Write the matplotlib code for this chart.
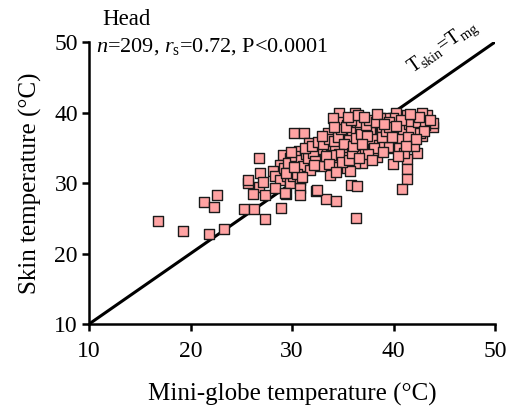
import matplotlib.pyplot as plt

plt.rcParams['font.family'] = ['Liberation Serif', 'DejaVu Serif']
plt.rcParams['mathtext.fontset'] = 'custom'
plt.rcParams['mathtext.rm'] = 'Liberation Serif'
plt.rcParams['mathtext.it'] = 'Liberation Serif:italic'

# mini-globe temperature (x) and skin temperature (y), deg C
globe_sparse = [16.8, 19.3, 21.3, 22.6, 22.3, 21.8, 23.3, 25.3, 26.3, 27.3,
                25.7, 25.7, 26.7, 26.2, 27.3, 26.8, 26.7, 28.9, 29.4, 32.4,
                33.3, 34.3, 36.3, 35.8, 36.4, 32.5]
skin_sparse = [24.6, 23.2, 27.3, 28.3, 26.6, 22.8, 23.5, 26.3, 26.3, 24.9,
               30.0, 30.4, 29.4, 28.4, 28.3, 31.4, 33.5, 26.5, 28.4, 28.9,
               27.7, 27.4, 25.0, 29.7, 29.6, 29.0]

globe_right = [42.3, 41.3, 41.3, 41.3, 40.8, 39.9, 38.4, 43.9, 43.9, 43.3,
               42.8, 42.8, 41.8, 40.3, 39.9, 38.8, 37.8, 37.2, 36.9, 36.9,
               40.2, 41.3, 39.9, 40.8, 41.9, 42.1, 41.1, 40.4, 41.3, 41.9,
               42.8, 41.1, 39.9, 40.0]
skin_right = [34.3, 33.4, 32.0, 30.6, 29.2, 32.7, 33.7, 37.9, 38.5, 39.6,
              39.9, 38.1, 35.8, 35.7, 37.2, 37.9, 37.1, 35.8, 32.8, 34.3,
              39.9, 39.6, 39.2, 38.5, 39.2, 37.8, 38.2, 37.1, 37.1, 36.5,
              36.7, 35.8, 35.0, 36.0]

globe_mid = [30.2, 31.2, 29.1, 28.8, 29.8, 30.7, 31.7, 31.9, 30.4, 30.8,
             28.1, 28.3, 28.8, 29.5, 29.8, 30.8, 30.8, 27.1, 28.3, 29.3,
             30.8, 30.0, 30.1, 34.6, 36.2, 34.6, 34.0, 36.2, 36.7, 35.4,
             34.2, 33.5, 35.2, 35.9, 36.7, 37.7, 38.9, 39.2, 38.7, 39.6,
             38.2, 37.0, 36.2, 34.9, 39.2, 39.5, 32.8, 33.4, 34.2, 35.4,
             36.4, 37.2, 32.8, 33.5, 34.4, 35.2, 36.4, 37.2, 38.0, 36.2,
             35.0, 33.9, 34.4, 32.6, 33.7, 35.7, 30.8]
skin_mid = [37.1, 37.1, 34.0, 32.6, 33.5, 34.5, 35.7, 32.8, 32.7, 31.8,
            31.7, 31.0, 30.4, 31.0, 30.0, 30.4, 29.3, 30.1, 29.3, 28.6,
            28.3, 31.8, 31.0, 39.9, 39.9, 38.7, 39.2, 38.7, 38.2, 38.2,
            37.2, 37.1, 36.8, 37.2, 37.2, 37.2, 37.9, 39.2, 39.2, 38.6,
            36.1, 36.3, 35.7, 35.2, 36.5, 35.1, 34.7, 34.7, 34.7, 34.7,
            34.7, 34.7, 33.4, 33.3, 33.3, 33.7, 34.0, 34.4, 34.6, 32.8,
            32.2, 32.3, 32.3, 33.3, 31.1, 31.7, 30.7]

globe_core = [29.2, 29.6, 30.3, 30.9, 31.4, 31.1, 31.6, 32.1, 32.3, 31.8,
              30.5, 29.9, 31.3, 32.0, 32.6, 31.0, 29.4, 30.2, 32.9, 32.2,
              33.1, 33.6, 34.1, 34.5, 34.8, 35.3, 35.6, 35.1, 34.6, 33.8,
              33.3, 34.9, 35.6, 35.9, 36.0, 33.0, 34.1, 35.8, 36.3, 35.5,
              33.6, 34.3, 36.8, 37.3, 37.6, 37.9, 38.3, 38.6, 38.9, 39.3,
              39.6, 38.1, 37.5, 36.6, 37.9, 39.0, 36.5, 37.1, 38.4, 39.1,
              37.4, 36.9, 40.6, 40.9, 41.5, 41.7, 42.4, 42.6, 43.1, 43.6,
              41.4, 40.5, 41.0, 42.0, 42.5, 40.7, 43.0, 41.6, 40.2, 39.8,
              42.2, 41.2, 40.4]
skin_core = [32.1, 32.9, 33.8, 33.2, 34.1, 32.4, 33.6, 34.3, 33.1, 31.9,
             31.3, 34.4, 35.0, 35.2, 35.8, 30.9, 31.4, 32.3, 32.4, 32.6,
             35.6, 36.2, 35.9, 36.6, 37.6, 37.9, 36.1, 35.6, 34.1, 34.0,
             33.9, 33.0, 33.3, 34.2, 35.3, 36.7, 38.0, 38.9, 36.4, 39.3,
             32.7, 31.6, 36.9, 38.3, 39.0, 36.3, 38.6, 35.4, 36.6, 37.4,
             37.9, 35.0, 34.1, 33.6, 33.2, 34.4, 39.6, 39.4, 39.8, 38.4,
             36.7, 35.5, 36.4, 37.6, 38.4, 37.4, 38.6, 37.1, 38.2, 38.9,
             36.6, 34.9, 34.3, 35.2, 39.3, 39.0, 37.4, 39.8, 38.1, 36.5,
             36.2, 35.2, 33.9]

globe = globe_sparse + globe_right + globe_mid + globe_core
skin = skin_sparse + skin_right + skin_mid + skin_core

fig = plt.figure(figsize=(5.13, 4.16), dpi=100)
ax = fig.add_axes([0.1735, 0.221, 0.7915, 0.678])

ax.plot([10, 50], [10, 50], color='black', lw=2.2, zorder=2, solid_capstyle='butt')
ax.scatter(globe, skin, marker='s', s=52, facecolor='#ffa3a3', edgecolor='#1a1a1a',
           linewidth=1.0, zorder=3, clip_on=False)

ax.set_xlim(10, 50)
ax.set_ylim(10, 50)
ax.set_xticks([10, 20, 30, 40, 50])
ax.set_yticks([10, 20, 30, 40, 50])
for s in ['top', 'right']:
    ax.spines[s].set_visible(False)
for s in ['left', 'bottom']:
    ax.spines[s].set_linewidth(1.8)
ax.tick_params(axis='both', direction='out', length=5, width=1.8, labelsize=17)
ax.tick_params(axis='x', pad=7)
ax.tick_params(axis='y', pad=3)

ax.set_xlabel('Mini-globe temperature (°C)', fontsize=18, labelpad=15)
ax.set_ylabel('Skin temperature (°C)', fontsize=18, labelpad=9)

fig.text(0.2, 0.952, 'Head', fontsize=16.5, ha='left', va='center')
ax.text(0.017, 0.985, r'$n$=209, $r_{\mathrm{s}}$=0.72, P<0.0001', transform=ax.transAxes,
        fontsize=16, ha='left', va='center')
ax.text(45.6, 47.9, r'T$_{\mathrm{skin}}$=T$_{\mathrm{mg}}$', fontsize=14.5,
        rotation=34.8, rotation_mode='anchor', ha='center', va='bottom')

fig.savefig('out.png', dpi=100)
